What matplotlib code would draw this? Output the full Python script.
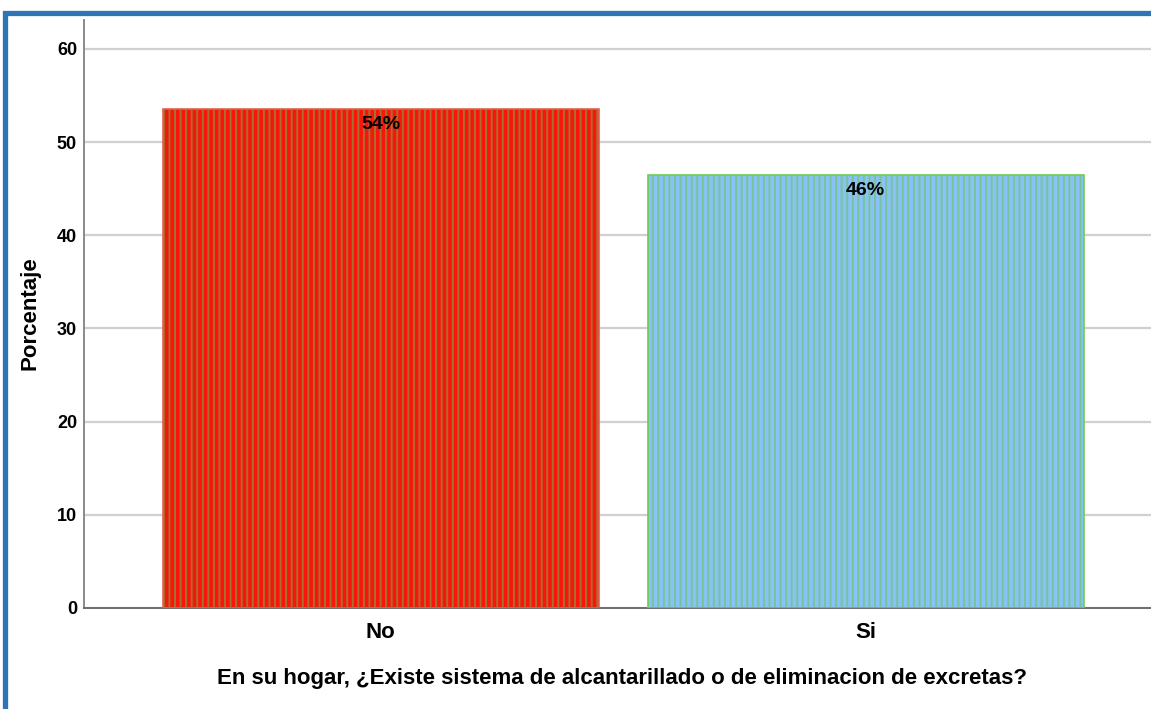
import matplotlib
matplotlib.use("Agg")
import matplotlib.pyplot as plt
from matplotlib.patches import Rectangle

categories = ["No", "Si"]
values = [53.5, 46.5]
labels = ["54%", "46%"]
yticks = [0, 10, 20, 30, 40, 50, 60]

face_colors = ["#f8150c", "#88c2f6"]
stripe_colors = ["#a8702c", "#78c49a"]
edge_colors = ["#e06050", "#70cc50"]

plt.rcParams['font.family'] = ['Liberation Sans', 'DejaVu Sans']
plt.rcParams['hatch.linewidth'] = 1.4

fig = plt.figure(figsize=(11.51, 7.09), dpi=100)
fig.patches.append(Rectangle((5/1151, -0.1), 1.2, 1 - 13/709 + 0.1, transform=fig.transFigure,
                             fill=False, edgecolor="#2e75b6", linewidth=3.8, zorder=0))
ax = fig.add_axes([84/1151, 1 - 608/709, 1 - 84/1151 + 0.01, (608 - 20)/709])

x = list(range(len(categories)))
ax.bar(x, values, width=0.9, color=face_colors, edgecolor=stripe_colors, linewidth=0,
       hatch='|||', zorder=2)
ax.bar(x, values, width=0.9, fill=False, edgecolor=edge_colors, linewidth=1.2, zorder=3)

for xi, v, lab in zip(x, values, labels):
    ax.text(xi, v - 0.75, lab, ha='center', va='top', fontsize=14, fontweight='bold', zorder=4)

ax.set_xlim(-0.612, 1.612)
ax.set_ylim(0, 63.1)
ax.set_yticks(yticks)
ax.set_yticklabels([str(t) for t in yticks], fontsize=13, fontweight='bold')
ax.set_xticks(x)
ax.set_xticklabels(categories, fontsize=16, fontweight='bold')
ax.tick_params(axis='y', length=0, pad=5)
ax.tick_params(axis='x', length=0, pad=10)
ax.yaxis.grid(True, color='#d0d0d0', linewidth=1.6, zorder=0)
ax.set_axisbelow(True)
for s in ['top', 'right']:
    ax.spines[s].set_visible(False)
ax.spines['left'].set_color('#8a8a8a')
ax.spines['left'].set_linewidth(1.4)
ax.spines['bottom'].set_color('#6e6e6e')
ax.spines['bottom'].set_linewidth(1.4)

W = 1151 - 84 + 11.5
ax.set_ylabel("Porcentaje", fontsize=16, fontweight='bold')
ax.set_xlabel("En su hogar, ¿Existe sistema de alcantarillado o de eliminacion de excretas?",
              fontsize=16, fontweight='bold')
ax.xaxis.set_label_coords((622 - 84) / W, -(668 - 608) / 588)
ax.yaxis.set_label_coords(-(84 - 41) / W, (608 - 313) / 588)

fig.savefig("out.png", dpi=100)
